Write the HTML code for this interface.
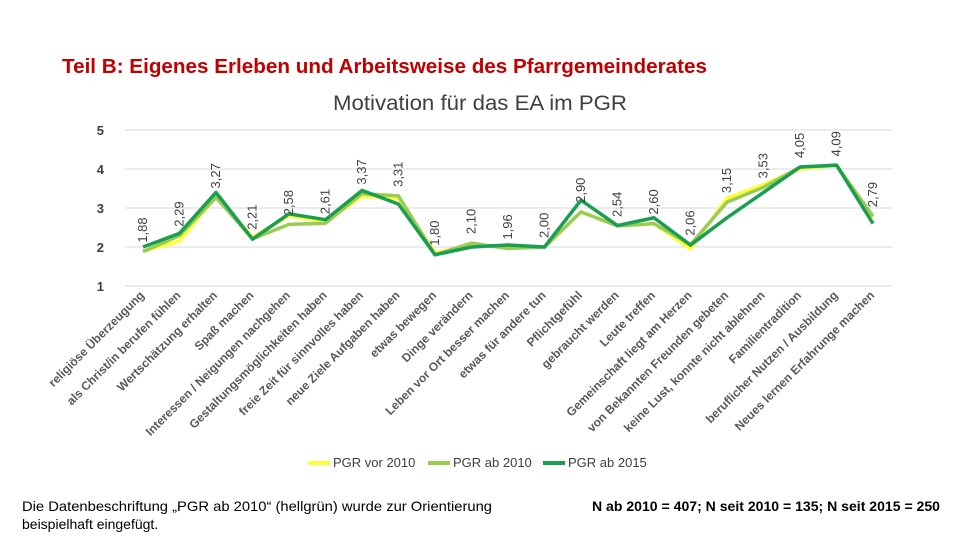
<!DOCTYPE html>
<html><head><meta charset="utf-8"><style>
body{margin:0;background:#fff;width:960px;height:540px;overflow:hidden;font-family:"Liberation Sans",sans-serif}
</style></head><body>
<svg width="960" height="540" xmlns="http://www.w3.org/2000/svg">
<text x="62" y="73" font-size="20" font-weight="bold" fill="#c00000" textLength="645" lengthAdjust="spacingAndGlyphs">Teil B: Eigenes Erleben und Arbeitsweise des Pfarrgemeinderates</text>
<text x="333" y="110" font-size="21" fill="#404040" textLength="294" lengthAdjust="spacingAndGlyphs">Motivation für das EA im PGR</text>
<g id="grid"></g><g id="xl"></g><g id="lines"></g><g id="dl"></g>
<g>
<line x1="308" y1="463" x2="330" y2="463" stroke="#ffff33" stroke-width="4"/><text x="333" y="467" font-size="13" fill="#404040">PGR vor 2010</text>
<line x1="428" y1="463" x2="450" y2="463" stroke="#99cc55" stroke-width="4"/><text x="453" y="467" font-size="13" fill="#404040">PGR ab 2010</text>
<line x1="543" y1="463" x2="565" y2="463" stroke="#1a9e50" stroke-width="4"/><text x="568" y="467" font-size="13" fill="#404040">PGR ab 2015</text>
</g>
<text x="22" y="511" font-size="14" fill="#000" textLength="470" lengthAdjust="spacingAndGlyphs">Die Datenbeschriftung „PGR ab 2010“ (hellgrün) wurde zur Orientierung</text>
<text x="22" y="529" font-size="14" fill="#000">beispielhaft eingefügt.</text>
<text x="592" y="511" font-size="14" font-weight="bold" fill="#000" textLength="348" lengthAdjust="spacingAndGlyphs">N ab 2010 = 407; N seit 2010 = 135; N seit 2015 = 250</text>
</svg>
<script>
const categories=["religiöse Überzeugung","als Christ/in berufen fühlen","Wertschätzung erhalten","Spaß machen","Interessen / Neigungen nachgehen","Gestaltungsmöglichkeiten haben","freie Zeit für sinnvolles haben","neue Ziele Aufgaben haben","etwas bewegen","Dinge verändern","Leben vor Ort besser machen","etwas für andere tun","Pflichtgefühl","gebraucht werden","Leute treffen","Gemeinschaft liegt am Herzen","von Bekannten Freunden gebeten","keine Lust, konnte nicht ablehnen","Familientradition","beruflicher Nutzen / Ausbildung","Neues lernen Erfahrunge machen"];
const vor2010=[1.90,2.15,3.30,2.25,2.80,2.65,3.30,3.25,1.85,2.05,2.00,2.00,2.90,2.55,2.60,1.95,3.25,3.60,4.00,4.10,2.75];
const ab2010=[1.88,2.29,3.27,2.21,2.58,2.61,3.37,3.31,1.80,2.10,1.96,2.00,2.90,2.54,2.60,2.06,3.15,3.53,4.05,4.09,2.79];
const ab2015=[2.00,2.35,3.40,2.20,2.85,2.70,3.45,3.10,1.80,2.00,2.05,2.00,3.20,2.55,2.75,2.05,2.75,3.40,4.05,4.10,2.60];
const yTicks=[1,2,3,4,5];
const NS="http://www.w3.org/2000/svg";
const x=i=>143+i*36.5, y=v=>286-(v-1)*39;
function mk(t,a,p){const e=document.createElementNS(NS,t);for(const k in a)e.setAttribute(k,a[k]);p.appendChild(e);return e;}
const g=document.getElementById('grid');
yTicks.forEach(t=>{const l=mk('line',{x1:125,x2:892,y1:y(t),y2:y(t),stroke:'#d9d9d9'},g);


const tx=mk('text',{x:104,y:y(t)+5,'font-size':13,'font-weight':'bold',fill:'#404040','text-anchor':'end'},g);tx.textContent=t;

});
const xl=document.getElementById('xl');
categories.forEach((c,i)=>{const t=mk('text',{transform:`translate(${x(i)+2},${296}) rotate(-45)`,'font-size':12,'font-weight':'bold',fill:'#595959','text-anchor':'end'},xl);t.textContent=c;

});
const L=document.getElementById('lines');
[[vor2010,'#ffff33','series-pgr-vor-2010'],[ab2010,'#99cc55','series-pgr-ab-2010'],[ab2015,'#1a9e50','series-pgr-ab-2015']].forEach(([d,c,n])=>{
const p=mk('polyline',{points:d.map((v,i)=>x(i)+','+y(v)).join(' '),fill:'none',stroke:c,'stroke-width':3.5,'stroke-linejoin':'round'},L);

});
const D=document.getElementById('dl');
ab2010.forEach((v,i)=>{const t=mk('text',{transform:`translate(${x(i)+4},${y(v)-9}) rotate(-90)`,'font-size':13,fill:'#404040'},D);t.textContent=v.toFixed(2).replace('.',',');

});
</script>
</body></html>
